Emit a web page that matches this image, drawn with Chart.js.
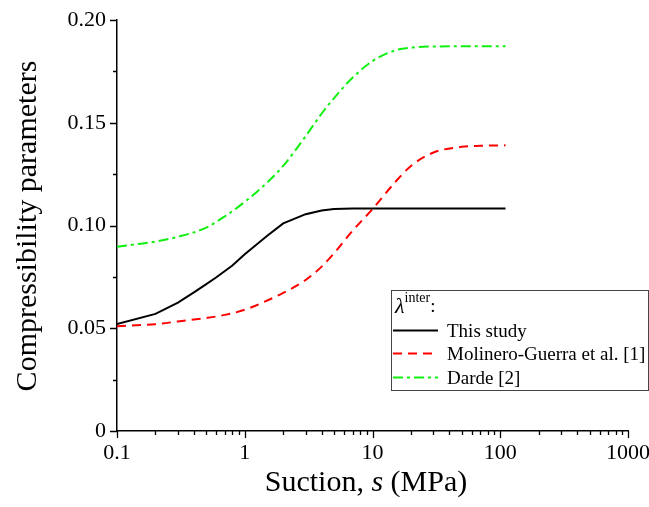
<!DOCTYPE html>
<html>
<head>
<meta charset="utf-8">
<script src="https://cdn.jsdelivr.net/npm/chart.js@4"></script>
<style>
  html, body { margin: 0; padding: 0; background: #fff; }
  #wrap { width: 649px; height: 507px; position: relative; }
</style>
</head>
<body>
<div id="wrap"><canvas id="lambdaChart"></canvas></div>
<script>
// lambda^inter vs suction (MPa)
const sThisStudy = [0.1, 0.2, 0.3, 0.4, 0.5, 0.6, 0.8, 1, 1.5, 2, 3, 4, 5, 7, 10, 20, 50, 110];
const lambdaThisStudy = [0.052, 0.057, 0.0625, 0.0675, 0.0715, 0.0748, 0.0805, 0.086, 0.095, 0.101, 0.1055, 0.1073, 0.108, 0.1083, 0.1083, 0.1083, 0.1083, 0.1083];

const sMolinero = [0.1, 0.2, 0.3, 0.5, 0.7, 1, 1.5, 2, 3, 4, 5, 7, 10, 15, 20, 30, 50, 70, 110];
const lambdaMolinero = [0.051, 0.052, 0.0533, 0.055, 0.0565, 0.059, 0.0635, 0.0672, 0.0735, 0.080, 0.0865, 0.0975, 0.108, 0.121, 0.129, 0.1355, 0.1383, 0.1388, 0.139];

const sDarde = [0.1, 0.2, 0.3, 0.5, 0.7, 1, 1.5, 2, 3, 4, 5, 7, 10, 15, 20, 30, 50, 110];
const lambdaDarde = [0.0897, 0.0922, 0.0945, 0.099, 0.1045, 0.1115, 0.121, 0.129, 0.1435, 0.1545, 0.162, 0.172, 0.18, 0.1852, 0.1866, 0.1871, 0.1872, 0.1872];

const xMajorTicks = [0.1, 1, 10, 100, 1000];
const yMajorTicks = [0, 0.05, 0.10, 0.15, 0.20];

const SERIF = "'Liberation Serif', 'Times New Roman', serif";

function pts(xs, ys) {
    return xs.map((x, i) => ({ x: x, y: ys[i] }));
}

// outward tick marks, long on majors and short on minors
const tickMarks = {
    id: "tickMarks",
    afterDraw(chart) {
        const ctx = chart.ctx;
        const xs = chart.scales.x;
        const ys = chart.scales.y;
        const area = chart.chartArea;
        ctx.save();
        ctx.strokeStyle = "#000";
        ctx.lineWidth = 1.3;
        ctx.beginPath();
        for (let e = -1; e <= 3; e++) {
            for (let m = 1; m <= 9; m++) {
                const v = m * Math.pow(10, e);
                if (v > 1000.0001) break;
                const px = Math.round(xs.getPixelForValue(v)) + 0.5;
                const len = m === 1 ? 7 : 4;
                ctx.moveTo(px, area.bottom);
                ctx.lineTo(px, area.bottom + len);
            }
        }
        for (let k = 0; k <= 8; k++) {
            const v = k * 0.025;
            const py = Math.round(ys.getPixelForValue(v)) + 0.5;
            const len = k % 2 === 0 ? 7 : 4;
            ctx.moveTo(area.left, py);
            ctx.lineTo(area.left - len, py);
        }
        ctx.stroke();
        ctx.restore();
    },
};

// axis titles, with italic "s" in the x title
const axisTitles = {
    id: "axisTitles",
    afterDraw(chart) {
        const ctx = chart.ctx;
        const area = chart.chartArea;
        ctx.save();
        ctx.fillStyle = "#000";
        ctx.textBaseline = "alphabetic";

        const parts = [
            { t: "Suction, ", f: "30px " + SERIF },
            { t: "s", f: "italic 30px " + SERIF },
            { t: " (MPa)", f: "30px " + SERIF },
        ];
        let total = 0;
        parts.forEach((p) => {
            ctx.font = p.f;
            p.w = ctx.measureText(p.t).width;
            total += p.w;
        });
        let x = 366 - total / 2;
        parts.forEach((p) => {
            ctx.font = p.f;
            ctx.fillText(p.t, x, 491);
            x += p.w;
        });

        ctx.translate(36, 226);
        ctx.rotate(-Math.PI / 2);
        ctx.font = "30px " + SERIF;
        ctx.textAlign = "center";
        ctx.fillText("Compressibility parameters", 0, 0);
        ctx.restore();
    },
};

// boxed legend with the lambda^inter heading
const boxLegend = {
    id: "boxLegend",
    afterDraw(chart) {
        const ctx = chart.ctx;
        const left = 391, top = 290, right = 648, bottom = 390;
        ctx.save();
        ctx.fillStyle = "#fff";
        ctx.fillRect(left, top, right - left, bottom - top);
        ctx.strokeStyle = "#444";
        ctx.lineWidth = 1;
        ctx.strokeRect(left + 0.5, top + 0.5, right - left, bottom - top);

        ctx.fillStyle = "#000";
        ctx.textBaseline = "alphabetic";
        ctx.font = "italic 22px " + SERIF;
        ctx.fillText("\u03bb", 395, 313);
        const lw = ctx.measureText("\u03bb").width;
        ctx.font = "14px " + SERIF;
        ctx.fillText("inter", 395 + lw, 302);
        const iw = ctx.measureText("inter").width;
        ctx.font = "19px " + SERIF;
        ctx.fillText(":", 395 + lw + iw, 312);

        const rowY = [330, 353, 377];
        chart.data.datasets.forEach((ds, i) => {
            const y = rowY[i] + 0.5;
            ctx.strokeStyle = ds.borderColor;
            ctx.lineWidth = ds.borderWidth;
            ctx.setLineDash(ds.borderDash || []);
            ctx.beginPath();
            ctx.moveTo(393, y);
            ctx.lineTo(438, y);
            ctx.stroke();
            ctx.setLineDash([]);
            ctx.font = "19px " + SERIF;
            ctx.fillStyle = "#000";
            ctx.fillText(ds.label, 447, rowY[i] + 7);
        });
        ctx.restore();
    },
};

const config = {
    type: "line",
    data: {
        datasets: [
            {
                label: "This study",
                data: pts(sThisStudy, lambdaThisStudy),
                borderColor: "#000000",
                borderWidth: 2,
                pointRadius: 0,
                tension: 0,
            },
            {
                label: "Molinero-Guerra et al. [1]",
                data: pts(sMolinero, lambdaMolinero),
                borderColor: "#ff0000",
                borderWidth: 2,
                borderDash: [9, 6],
                pointRadius: 0,
                cubicInterpolationMode: "monotone",
            },
            {
                label: "Darde [2]",
                data: pts(sDarde, lambdaDarde),
                borderColor: "#10f010",
                borderWidth: 2,
                borderDash: [10, 4, 3, 4],
                pointRadius: 0,
                cubicInterpolationMode: "monotone",
            },
        ],
    },
    options: {
        responsive: true,
        maintainAspectRatio: false,
        animation: false,
        layout: { padding: { left: 0, top: 20, right: 21, bottom: 0 } },
        scales: {
            x: {
                type: "logarithmic",
                min: 0.1,
                max: 1000,
                afterBuildTicks: (scale) => {
                    scale.ticks = xMajorTicks.map((v) => ({ value: v }));
                },
                afterFit: (scale) => {
                    scale.height = 76;
                    scale.paddingLeft = 0;
                    scale.paddingRight = 0;
                },
                grid: { display: false, drawTicks: false },
                border: { display: true, color: "#000", width: 1.5 },
                ticks: {
                    color: "#000",
                    font: { family: SERIF, size: 22 },
                    padding: 9,
                    maxRotation: 0,
                    autoSkip: false,
                    callback: (v) => String(v),
                },
            },
            y: {
                type: "linear",
                min: 0,
                max: 0.2,
                afterBuildTicks: (scale) => {
                    scale.ticks = yMajorTicks.map((v) => ({ value: v }));
                },
                afterFit: (scale) => {
                    scale.width = 117;
                    scale.paddingTop = 0;
                    scale.paddingBottom = 0;
                },
                grid: { display: false, drawTicks: false },
                border: { display: true, color: "#000", width: 1.5 },
                ticks: {
                    color: "#000",
                    font: { family: SERIF, size: 22 },
                    padding: 11,
                    callback: (v) => (v === 0 ? "0" : v.toFixed(2)),
                },
            },
        },
        plugins: {
            legend: { display: false },
            tooltip: { enabled: false },
        },
    },
    plugins: [tickMarks, axisTitles, boxLegend],
};

new Chart(document.getElementById("lambdaChart"), config);
</script>
</body>
</html>
